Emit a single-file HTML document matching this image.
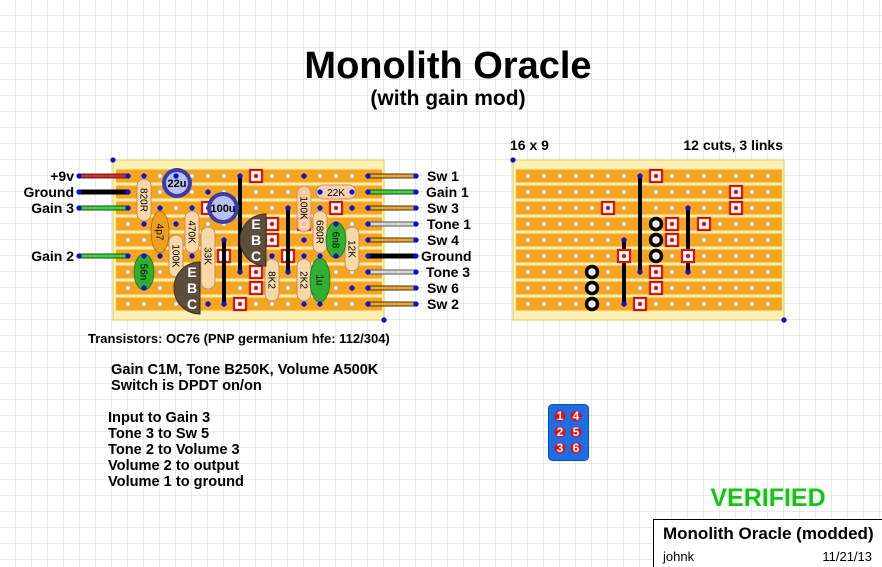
<!DOCTYPE html>
<html><head><meta charset="utf-8"><style>
html,body{margin:0;padding:0;background:#fff}
svg{display:block}
text{font-family:"Liberation Sans",Arial,sans-serif}
</style></head><body>
<svg width="882" height="567" viewBox="0 0 882 567" xmlns="http://www.w3.org/2000/svg">
<defs>
<pattern id="grid" patternUnits="userSpaceOnUse" x="0" y="0" width="16" height="16">
<rect width="16" height="16" fill="#fff"/>
<path d="M16 0V16M0 16H16" stroke="#dcdcdc" stroke-width="1.3"/>
</pattern>
<pattern id="strip" patternUnits="userSpaceOnUse" x="120" y="168" width="16" height="16">
<rect x="0" y="1.5" width="16" height="13" fill="#f8a51e"/>
<circle cx="8" cy="8" r="2.2" fill="#fff" stroke="#aaa" stroke-width="0.8"/>
</pattern>
<pattern id="strip2" patternUnits="userSpaceOnUse" x="520" y="168" width="16" height="16">
<rect x="0" y="1.5" width="16" height="13" fill="#f8a51e"/>
<circle cx="8" cy="8" r="2.2" fill="#fff" stroke="#aaa" stroke-width="0.8"/>
</pattern>
<g id="cut"><rect x="-6" y="-6" width="12" height="12" fill="#fff" stroke="#e41010" stroke-width="2.2"/><circle r="2.2" fill="#e41010"/></g>
<g id="ring"><circle r="5.5" fill="#fff" stroke="#000" stroke-width="3.5"/></g>
<g id="bd"><circle r="2.6" fill="#0010e0"/></g>
</defs>
<rect width="882" height="567" fill="url(#grid)"/>

<text x="448" y="78" font-size="38" font-weight="bold" text-anchor="middle">Monolith Oracle</text>
<text x="448" y="105" font-size="21" font-weight="bold" text-anchor="middle">(with gain mod)</text>

<rect x="113" y="160" width="271" height="160" fill="#fdf0b4" stroke="#e8c84a" stroke-width="1"/>
<rect x="116" y="168" width="266" height="144" fill="url(#strip)"/>
<use href="#bd" x="113" y="160"/><use href="#bd" x="384" y="320"/>

<g stroke-width="5" stroke-linecap="butt">
<line x1="79" y1="176" x2="128" y2="176" stroke="#333"/><line x1="79" y1="176" x2="128" y2="176" stroke="#f02020" stroke-width="3"/>
<line x1="79" y1="192" x2="128" y2="192" stroke="#000"/>
<line x1="79" y1="208" x2="128" y2="208" stroke="#333"/><line x1="79" y1="208" x2="128" y2="208" stroke="#30e030" stroke-width="3"/>
<line x1="79" y1="256" x2="128" y2="256" stroke="#333"/><line x1="79" y1="256" x2="128" y2="256" stroke="#30e030" stroke-width="3"/>
</g>
<g>
<use href="#bd" x="79" y="176"/><use href="#bd" x="128" y="176"/>
<use href="#bd" x="79" y="192"/><use href="#bd" x="128" y="192"/>
<use href="#bd" x="79" y="208"/><use href="#bd" x="128" y="208"/>
<use href="#bd" x="79" y="256"/><use href="#bd" x="128" y="256"/>
</g>
<g font-size="14" font-weight="bold" text-anchor="end">
<text x="74" y="181">+9v</text><text x="74" y="197">Ground</text><text x="74" y="213">Gain 3</text><text x="74" y="261">Gain 2</text>
</g>
<g stroke-width="5">
<line x1="368" y1="176" x2="416" y2="176" stroke="#333"/><line x1="368" y1="176" x2="416" y2="176" stroke="#f8a51e" stroke-width="3"/>
<line x1="368" y1="192" x2="416" y2="192" stroke="#333"/><line x1="368" y1="192" x2="416" y2="192" stroke="#30e030" stroke-width="3"/>
<line x1="368" y1="208" x2="416" y2="208" stroke="#333"/><line x1="368" y1="208" x2="416" y2="208" stroke="#f8a51e" stroke-width="3"/>
<line x1="368" y1="224" x2="416" y2="224" stroke="#555"/><line x1="368" y1="224" x2="416" y2="224" stroke="#d8d8d8" stroke-width="3"/>
<line x1="368" y1="240" x2="416" y2="240" stroke="#333"/><line x1="368" y1="240" x2="416" y2="240" stroke="#f8a51e" stroke-width="3"/>
<line x1="368" y1="256" x2="416" y2="256" stroke="#000"/>
<line x1="368" y1="272" x2="416" y2="272" stroke="#555"/><line x1="368" y1="272" x2="416" y2="272" stroke="#d8d8d8" stroke-width="3"/>
<line x1="368" y1="288" x2="416" y2="288" stroke="#333"/><line x1="368" y1="288" x2="416" y2="288" stroke="#f8a51e" stroke-width="3"/>
<line x1="368" y1="304" x2="416" y2="304" stroke="#333"/><line x1="368" y1="304" x2="416" y2="304" stroke="#f8a51e" stroke-width="3"/>
</g>
<g>
<use href="#bd" x="368" y="176"/><use href="#bd" x="416" y="176"/>
<use href="#bd" x="368" y="192"/><use href="#bd" x="416" y="192"/>
<use href="#bd" x="368" y="208"/><use href="#bd" x="416" y="208"/>
<use href="#bd" x="368" y="224"/><use href="#bd" x="416" y="224"/>
<use href="#bd" x="368" y="240"/><use href="#bd" x="416" y="240"/>
<use href="#bd" x="368" y="256"/><use href="#bd" x="416" y="256"/>
<use href="#bd" x="368" y="272"/><use href="#bd" x="416" y="272"/>
<use href="#bd" x="368" y="288"/><use href="#bd" x="416" y="288"/>
<use href="#bd" x="368" y="304"/><use href="#bd" x="416" y="304"/>
</g>
<g font-size="14" font-weight="bold">
<text x="427" y="181">Sw 1</text><text x="426" y="197">Gain 1</text><text x="427" y="213">Sw 3</text>
<text x="427" y="229">Tone 1</text><text x="427" y="245">Sw 4</text><text x="421" y="261">Ground</text>
<text x="426" y="277">Tone 3</text><text x="427" y="293">Sw 6</text><text x="427" y="309">Sw 2</text>
</g>

<use href="#cut" x="256" y="176"/><use href="#cut" x="336" y="192"/>
<use href="#cut" x="208" y="208"/><use href="#cut" x="336" y="208"/>
<use href="#cut" x="272" y="224"/><use href="#cut" x="304" y="224"/>
<use href="#cut" x="272" y="240"/><use href="#cut" x="224" y="256"/><use href="#cut" x="288" y="256"/>
<use href="#cut" x="256" y="272"/><use href="#cut" x="256" y="288"/><use href="#cut" x="240" y="304"/>
<g stroke="#000" stroke-width="4">
<line x1="240" y1="176" x2="240" y2="272"/><line x1="288" y1="208" x2="288" y2="272"/><line x1="224" y1="240" x2="224" y2="304"/>
</g>
<g>
<use href="#bd" x="240" y="176"/><use href="#bd" x="240" y="272"/><use href="#bd" x="288" y="208"/><use href="#bd" x="288" y="272"/><use href="#bd" x="224" y="240"/><use href="#bd" x="224" y="304"/>
</g>

<g stroke="#c09060" stroke-width="1" fill="#f7d8a8" font-size="10" text-anchor="middle">
<rect x="137" y="179" width="14" height="42" rx="7"/>
<text transform="translate(144,200) rotate(90)" y="3.5" fill="#000" stroke="none">820R</text>
<rect x="185" y="211" width="14" height="42" rx="7"/>
<text transform="translate(192,232) rotate(90)" y="3.5" fill="#000" stroke="none">470K</text>
<rect x="169" y="235" width="14" height="42" rx="7"/>
<text transform="translate(176,256) rotate(90)" y="3.5" fill="#000" stroke="none">100K</text>
<rect x="201" y="227" width="14" height="62" rx="7"/>
<text transform="translate(208,256) rotate(90)" y="3.5" fill="#000" stroke="none">33K</text>
<rect x="265" y="259" width="14" height="42" rx="7"/>
<text transform="translate(272,280) rotate(90)" y="3.5" fill="#000" stroke="none">8K2</text>
<rect x="297" y="259" width="14" height="42" rx="7"/>
<text transform="translate(304,280) rotate(90)" y="3.5" fill="#000" stroke="none">2K2</text>
<rect x="297" y="186" width="14" height="46" rx="7" fill="#f8d0b0" opacity="0.85"/>
<text transform="translate(304,208) rotate(90)" y="3.5" fill="#000" stroke="none">100K</text>
<rect x="313" y="211" width="14" height="42" rx="7"/>
<text transform="translate(320,232) rotate(90)" y="3.5" fill="#000" stroke="none">680R</text>
<rect x="345" y="227" width="14" height="44" rx="7"/>
<text transform="translate(352,249) rotate(90)" y="3.5" fill="#000" stroke="none">12K</text>
<rect x="316" y="185" width="40" height="14" rx="7" fill="#f8d0b0"/>
<text x="336" y="196" fill="#000" stroke="none">22K</text>
</g>
<g stroke="#a06010" stroke-width="0.8" font-size="10" text-anchor="middle">
<ellipse cx="160" cy="232" rx="9" ry="21" fill="#f0a020"/>
<text transform="translate(160,232) rotate(90)" y="3.5" stroke="none">4p7</text>
<ellipse cx="144" cy="272" rx="10" ry="18" fill="#30b030" stroke="#207020"/>
<text transform="translate(144,272) rotate(90)" y="3.5" stroke="none">56n</text>
<ellipse cx="336" cy="240" rx="10" ry="18" fill="#30b030" stroke="#207020"/>
<text transform="translate(336,240) rotate(90)" y="3.5" stroke="none">6n8</text>
<ellipse cx="320" cy="280" rx="10" ry="22" fill="#30b030" stroke="#207020"/>
<text transform="translate(320,280) rotate(90)" y="3.5" stroke="none">1u</text>
</g>
<circle cx="177" cy="183" r="15" fill="#3c3ca8"/><circle cx="177" cy="183" r="11" fill="#b8c0ee"/>
<text x="177" y="187" font-size="11" font-weight="bold" text-anchor="middle">22u</text>
<circle cx="223" cy="208" r="16" fill="#3c3ca8"/><circle cx="223" cy="208" r="12" fill="#b8c0ee"/>
<text x="223" y="212" font-size="11" font-weight="bold" text-anchor="middle">100u</text>
<path d="M200 262 A26 26 0 0 0 200 314 Z" fill="#5c4e3c" stroke="#3a3020"/>
<path d="M266 214 A26 26 0 0 0 266 266 Z" fill="#5c4e3c" stroke="#3a3020"/>
<g font-size="14" font-weight="bold" fill="#fff" text-anchor="middle">
<text x="192" y="277">E</text><text x="192" y="293">B</text><text x="192" y="309">C</text>
<text x="256" y="229">E</text><text x="256" y="245">B</text><text x="256" y="261">C</text>
</g>
<g>
<use href="#bd" x="144" y="176"/><use href="#bd" x="144" y="224"/>
<use href="#bd" x="160" y="208"/><use href="#bd" x="160" y="256"/>
<use href="#bd" x="176" y="176"/><use href="#bd" x="176" y="224"/>
<use href="#bd" x="192" y="208"/><use href="#bd" x="192" y="256"/>
<use href="#bd" x="208" y="192"/><use href="#bd" x="208" y="304"/>
<use href="#bd" x="144" y="256"/><use href="#bd" x="144" y="288"/>
<use href="#bd" x="272" y="256"/><use href="#bd" x="304" y="256"/><use href="#bd" x="304" y="304"/>
<use href="#bd" x="320" y="256"/><use href="#bd" x="320" y="304"/>
<use href="#bd" x="304" y="176"/><use href="#bd" x="304" y="240"/>
<use href="#bd" x="320" y="192"/><use href="#bd" x="352" y="192"/>
<use href="#bd" x="320" y="208"/><use href="#bd" x="336" y="224"/><use href="#bd" x="336" y="256"/>
<use href="#bd" x="352" y="208"/><use href="#bd" x="352" y="288"/>
</g>

<text x="88" y="343" font-size="13" font-weight="bold">Transistors: OC76 (PNP germanium  hfe: 112/304)</text>
<g font-size="14.6" font-weight="bold">
<text x="111" y="374">Gain C1M, Tone B250K, Volume A500K</text>
<text x="111" y="390">Switch is DPDT on/on</text>
<text x="108" y="422">Input to Gain 3</text>
<text x="108" y="438">Tone 3 to Sw 5</text>
<text x="108" y="454">Tone 2 to Volume 3</text>
<text x="108" y="470">Volume 2 to output</text>
<text x="108" y="486">Volume 1 to ground</text>
</g>

<text x="510" y="150" font-size="14" font-weight="bold">16 x 9</text>
<text x="783" y="150" font-size="14" font-weight="bold" text-anchor="end">12 cuts, 3 links</text>
<rect x="513" y="160" width="271" height="160" fill="#fdf0b4" stroke="#e8c84a" stroke-width="1"/>
<rect x="516" y="168" width="266" height="144" fill="url(#strip2)"/>
<use href="#bd" x="513" y="160"/><use href="#bd" x="784" y="320"/>
<use href="#cut" x="656" y="176"/><use href="#cut" x="736" y="192"/>
<use href="#cut" x="608" y="208"/><use href="#cut" x="736" y="208"/>
<use href="#cut" x="672" y="224"/><use href="#cut" x="704" y="224"/>
<use href="#cut" x="672" y="240"/>
<use href="#cut" x="656" y="272"/><use href="#cut" x="656" y="288"/><use href="#cut" x="640" y="304"/>
<g stroke="#000" stroke-width="4">
<line x1="640" y1="176" x2="640" y2="272"/><line x1="688" y1="208" x2="688" y2="272"/><line x1="624" y1="240" x2="624" y2="304"/>
</g>
<use href="#cut" x="688" y="256"/><use href="#cut" x="624" y="256"/>
<g>
<use href="#bd" x="640" y="176"/><use href="#bd" x="640" y="272"/><use href="#bd" x="688" y="208"/><use href="#bd" x="688" y="272"/><use href="#bd" x="624" y="240"/><use href="#bd" x="624" y="304"/>
</g>
<use href="#ring" x="656" y="224"/><use href="#ring" x="656" y="240"/><use href="#ring" x="656" y="256"/>
<use href="#ring" x="592" y="272"/><use href="#ring" x="592" y="288"/><use href="#ring" x="592" y="304"/>

<rect x="548.5" y="404.5" width="40" height="56" rx="4" fill="#1a6ee8" stroke="#0a50b0"/>
<g fill="#e01010"><circle cx="560" cy="416" r="5.5"/><circle cx="576" cy="416" r="5.5"/><circle cx="560" cy="432" r="5.5"/><circle cx="576" cy="432" r="5.5"/><circle cx="560" cy="448" r="5.5"/><circle cx="576" cy="448" r="5.5"/></g>
<g font-size="12" font-weight="bold" fill="#fff" text-anchor="middle">
<text x="560" y="420">1</text><text x="576" y="420">4</text><text x="560" y="436">2</text><text x="576" y="436">5</text><text x="560" y="452">3</text><text x="576" y="452">6</text>
</g>

<text x="768" y="506" font-size="25" font-weight="bold" fill="#10c810" text-anchor="middle">VERIFIED</text>
<rect x="653.5" y="519.5" width="235" height="60" fill="#fff" stroke="#000"/>
<text x="663" y="539" font-size="17" font-weight="bold">Monolith Oracle (modded)</text>
<text x="663" y="561" font-size="13">johnk</text>
<text x="872" y="561" font-size="13" text-anchor="end">11/21/13</text>
</svg>
</body></html>
